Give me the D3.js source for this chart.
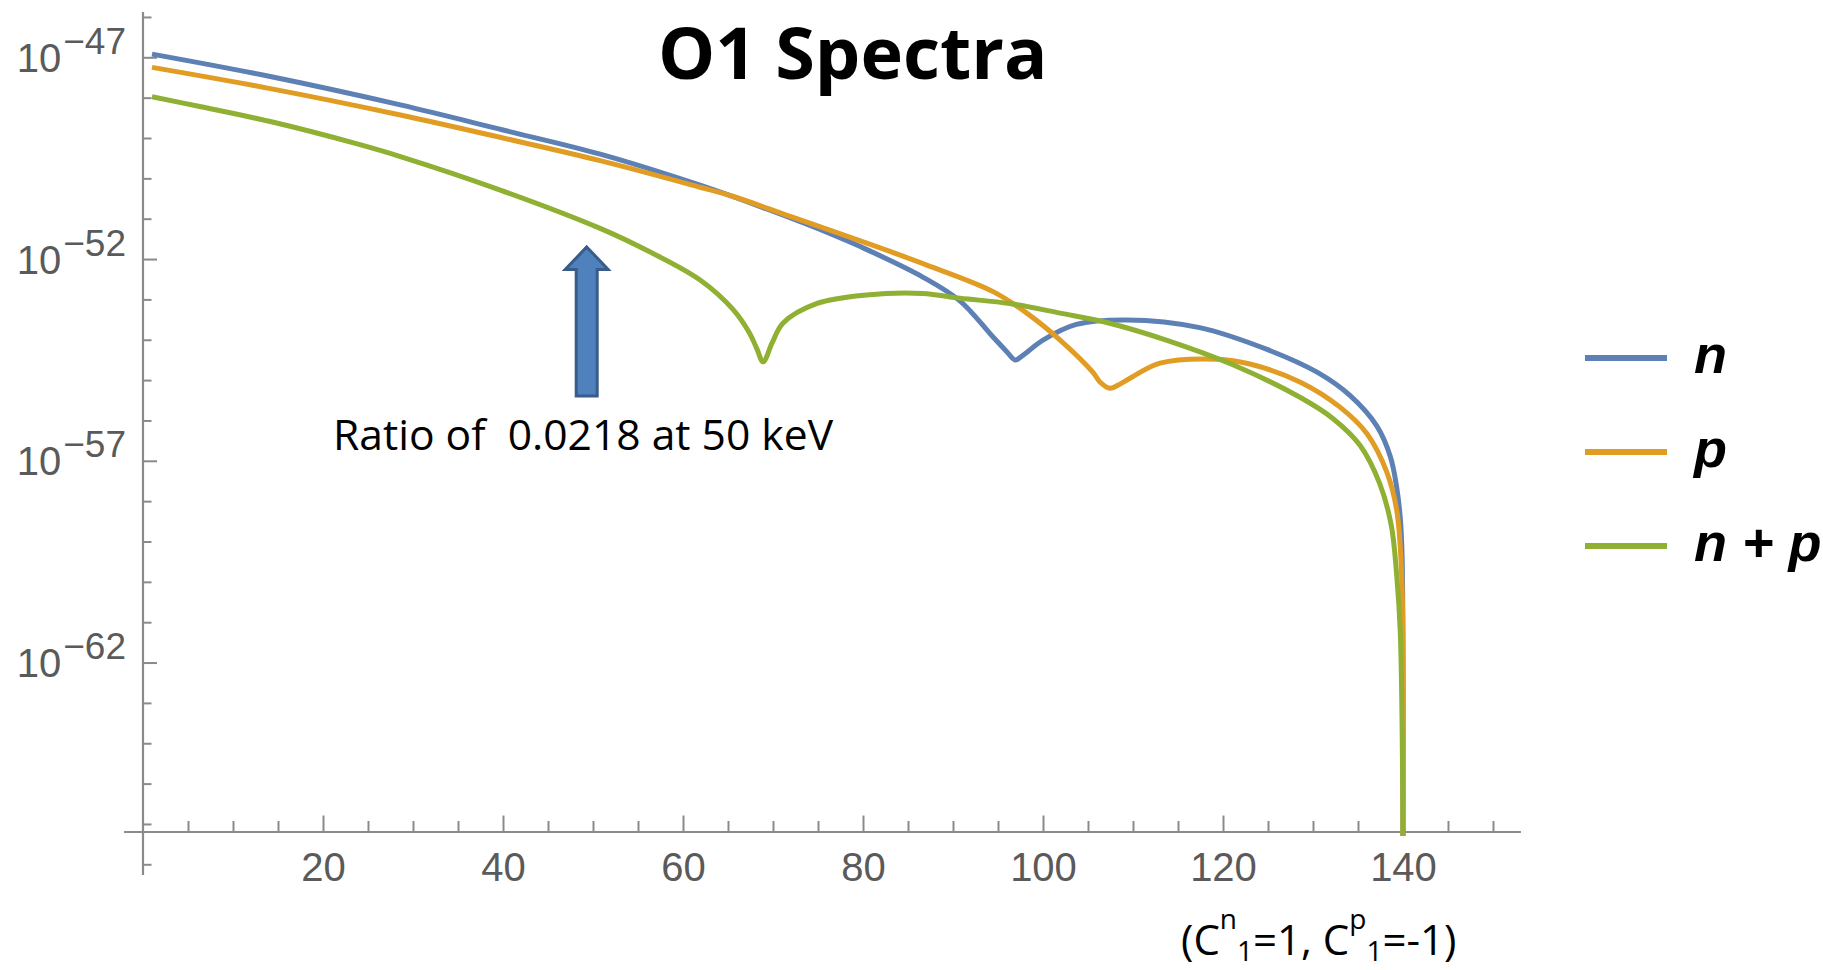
<!DOCTYPE html>
<html><head><meta charset="utf-8">
<script src="https://cdn.jsdelivr.net/npm/d3@7/dist/d3.min.js"></script>
<style>body{margin:0;background:#fff;overflow:hidden}</style>
</head><body><svg id="chart" width="1823" height="970"></svg>
<script>
// ---- data ----
const nX = [1, 14, 28.6, 40, 50.8, 61.9, 69.3, 76.7, 79.7, 86.6, 90.8, 94.4, 96.0, 96.9, 97.8, 100, 103.7, 109.3, 117.4, 124.9, 130.5, 134.1, 137.1, 138.6, 139.3, 139.7, 139.9, 140];
const nY = [1.2e-47, 3.39e-48, 6.61e-49, 1.58e-49, 3.98e-50, 6.76e-51, 1.74e-51, 3.98e-52, 2.04e-52, 3.63e-53, 9.1e-54, 1.2e-54, 5.0e-55, 3.16e-55, 4.17e-55, 9.8e-55, 2.4e-54, 3.1e-54, 2.0e-54, 5.75e-55, 1.55e-55, 4.17e-56, 7.24e-57, 1.26e-57, 2.19e-58, 3.8e-59, 4.37e-60, 5.0e-67];

const pX = [1, 14, 28.6, 40, 50.8, 61.9, 65.6, 72, 79.7, 87.1, 94.4, 98.2, 101.9, 105.6, 106.3, 107.4, 108.7, 110, 113, 119.3, 123, 128.6, 133, 136, 138.2, 139.3, 139.85, 140];
const pY = [5.62e-48, 1.7e-48, 3.72e-49, 1.0e-49, 2.75e-50, 6.03e-51, 3.55e-51, 1.12e-51, 2.82e-52, 7.08e-53, 1.58e-53, 4.57e-54, 9.8e-55, 1.51e-55, 9.1e-56, 6.3e-56, 8.3e-56, 1.23e-55, 2.63e-55, 3.3e-55, 2.5e-55, 8.9e-56, 2.14e-56, 4.68e-57, 5.25e-58, 6.0e-59, 1.48e-60, 5.0e-67];

const npX = [1, 6.3, 14.5, 23.7, 28.6, 39.7, 50.8, 56.3, 61.9, 65.6, 67.4, 68.2, 68.9, 69.9, 71.1, 74.9, 80.4, 86.6, 90.8, 96.3, 101.9, 107.4, 113.7, 121.1, 128.6, 132.2, 135.2, 137.4, 138.7, 139.3, 139.7, 140];
const npY = [1.05e-48, 6.03e-49, 2.45e-49, 7.24e-50, 3.47e-50, 5.13e-51, 5.75e-52, 1.51e-52, 3.02e-53, 5.5e-54, 1.45e-54, 6.03e-55, 2.82e-55, 8.32e-55, 2.57e-54, 7.94e-54, 1.29e-53, 1.41e-53, 1.07e-53, 7.9e-54, 4.57e-54, 2.57e-54, 9.8e-55, 2.4e-55, 3.7e-56, 1.12e-56, 2.45e-57, 2.75e-58, 2.5e-59, 1.45e-60, 5.5e-62, 5.0e-67];

const seriesNames = ["n", "p", "n + p"];
const seriesColors = ["#5E81B5", "#E19C24", "#8FB032"];
const xMajorTicks = [20, 40, 60, 80, 100, 120, 140];
const xMinorTicks = [5, 10, 15, 25, 30, 35, 45, 50, 55, 65, 70, 75, 85, 90, 95, 105, 110, 115, 125, 130, 135, 145, 150];
const yMajorExps = [-47, -52, -57, -62];
const yMinorExps = [-46, -48, -49, -50, -51, -53, -54, -55, -56, -58, -59, -60, -61, -63, -64, -65, -66, -67];
const titleText = "O1 Spectra";
const noteText = "Ratio of  0.0218 at 50 keV";
const noteKeV = 49.3;

// ---- scales ----
const svg = d3.select("#chart");
svg.append("rect").attr("width", 1823).attr("height", 970).attr("fill", "#fff");
const x = d3.scaleLinear().domain([0, 150]).range([143, 1493]);
const y = d3.scaleLog().domain([1e-46, 1e-67]).range([16.95, 864.3]);
const axisOriginY = y(6.31e-67);
const axisColor = "#8a8a8a";
const labelColor = "#5a5a5a";

// ---- axes ----
const gx = svg.append("g").attr("transform", `translate(0,${axisOriginY})`);
gx.call(d3.axisBottom(x).tickValues(xMajorTicks).tickSize(-16.5).tickPadding(21).tickSizeOuter(0).tickFormat(d3.format("d")));
gx.append("g").call(d3.axisBottom(x).tickValues(xMinorTicks).tickSize(-11).tickSizeOuter(0).tickFormat(""));
gx.selectAll(".domain").remove();
gx.selectAll("line").attr("stroke", axisColor).attr("stroke-width", 2);
gx.selectAll("text").attr("fill", labelColor).style("font-family", "'Liberation Sans', Arial, sans-serif").style("font-size", "40px");
gx.append("line").attr("x1", x(-2.1)).attr("x2", x(153.1)).attr("stroke", axisColor).attr("stroke-width", 2.2);

const gy = svg.append("g").attr("transform", `translate(${x(0)},0)`);
gy.call(d3.axisLeft(y).tickValues(yMajorExps.map(e => Math.pow(10, e))).tickSize(-14).tickSizeOuter(0).tickFormat(""));
gy.append("g").call(d3.axisLeft(y).tickValues(yMinorExps.map(e => Math.pow(10, e))).tickSize(-8.5).tickSizeOuter(0).tickFormat(""));
gy.selectAll(".domain").remove();
gy.selectAll("line").attr("stroke", axisColor).attr("stroke-width", 2);
gy.append("line").attr("y1", 12).attr("y2", 875).attr("stroke", axisColor).attr("stroke-width", 2.2);

const yl = svg.append("g").style("font-family", "'Liberation Sans', Arial, sans-serif").attr("fill", labelColor);
yMajorExps.forEach(e => {
  const t = yl.append("text").attr("x", 126).attr("y", y(Math.pow(10, e)) + 14.5).attr("text-anchor", "end");
  t.append("tspan").style("font-size", "40px").text("10");
  t.append("tspan").style("font-size", "37px").attr("dx", 2).attr("dy", -18).text("\u2212" + Math.abs(e));
});

// ---- curves ----
const line = d3.line().x(d => x(d[0])).y(d => y(d[1])).curve(d3.curveCatmullRom.alpha(0.5));
const series = [d3.zip(nX, nY), d3.zip(pX, pY), d3.zip(npX, npY)];
series.forEach((s, i) => {
  svg.append("path").datum(s).attr("d", line).attr("fill", "none")
    .attr("stroke", seriesColors[i]).attr("stroke-width", 5).attr("stroke-linejoin", "round").attr("stroke-linecap", "butt");
});

// ---- legend ----
const legY = [358, 452, 546];
const lg = svg.append("g");
seriesNames.forEach((name, i) => {
  lg.append("line").attr("x1", 1585).attr("x2", 1667).attr("y1", legY[i]).attr("y2", legY[i])
    .attr("stroke", seriesColors[i]).attr("stroke-width", 6);
  lg.append("text").attr("x", 1694).attr("y", legY[i] + 15)
    .style("font-family", "'Liberation Sans', Arial, sans-serif").style("font-size", "54px")
    .style("font-weight", "bold").style("font-style", "italic").attr("fill", "#000").text(name);
});

// ---- title / annotation ----
svg.append("text").attr("x", 658).attr("y", 79)
  .style("font-family", "'Open Sans', sans-serif").style("font-weight", "700").style("font-size", "72px")
  .attr("fill", "#000").text(titleText);

svg.append("text").attr("x", 333).attr("y", 450).style("white-space", "pre")
  .style("font-family", "'Open Sans', sans-serif").style("font-size", "42.6px").attr("fill", "#000").text(noteText);

// block arrow (pointing up at ~50 keV)
const ax = x(noteKeV);
const arrowPts = [[ax, 247], [ax + 21.5, 269.5], [ax + 10.5, 269.5], [ax + 10.5, 396], [ax - 10.5, 396], [ax - 10.5, 269.5], [ax - 21.5, 269.5]];
svg.append("path").attr("d", d3.line()(arrowPts) + "Z").attr("fill", "#4F81BD").attr("stroke", "#385D8A").attr("stroke-width", 3).attr("stroke-linejoin", "miter");

// footnote
const fn = svg.append("text").attr("x", 1181).attr("y", 955)
  .style("font-family", "'Open Sans', sans-serif").style("font-size", "42px").attr("fill", "#000");
fn.append("tspan").text("(C");
fn.append("tspan").style("font-size", "28px").attr("dy", -26).text("n");
fn.append("tspan").style("font-size", "28px").attr("dy", 32).text("1");
fn.append("tspan").attr("dy", -6).text("=1, C");
fn.append("tspan").style("font-size", "28px").attr("dy", -26).text("p");
fn.append("tspan").style("font-size", "28px").attr("dy", 32).text("1");
fn.append("tspan").attr("dy", -6).text("=-1)");
</script>
</body></html>
